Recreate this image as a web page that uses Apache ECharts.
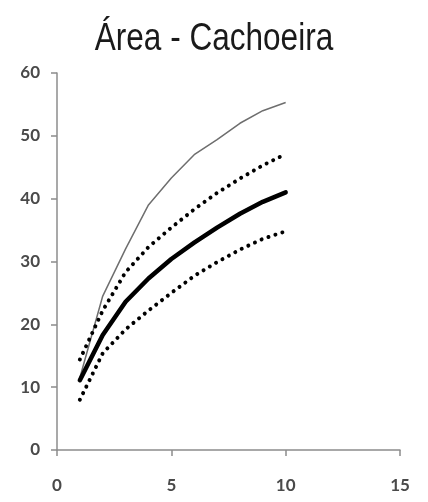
<!DOCTYPE html>
<html>
<head>
<meta charset="utf-8">
<script src="https://cdn.jsdelivr.net/npm/echarts@6/dist/echarts.min.js"></script>
<style>html,body{margin:0;padding:0;background:#fff}#c{width:428px;height:502px}</style>
</head>
<body>
<div id="c"></div>
<script>
const titleText = 'Área - Cachoeira';
const xValues = [1, 2, 3, 4, 5, 6, 7, 8, 9, 10];
const upperThin = [11.5, 24.5, 32, 39, 43.3, 47, 49.4, 52, 54, 55.3];
const upperDotted = [14.4, 22.2, 28.3, 32.3, 35.4, 38.3, 40.9, 43.2, 45.3, 47.1];
const mainThick = [11.1, 18.3, 23.6, 27.3, 30.4, 33, 35.4, 37.6, 39.5, 41];
const lowerDotted = [8.0, 15.4, 19.2, 22.2, 25, 27.7, 29.9, 31.9, 33.6, 34.8];
const xTicks = [0, 5, 10, 15];
const yTicks = [0, 10, 20, 30, 40, 50, 60];

const pairs = arr => xValues.map((x, i) => [x, arr[i]]);
const chart = echarts.init(document.getElementById('c'), null, {renderer: 'canvas'});
const axisColor = '#8c8c8c';
const labelFont = {fontFamily: 'Lato, "Open Sans", sans-serif', fontSize: 17, fontWeight: 'bold', color: '#4a4a4a'};
const dotted = {color: '#000', width: 4, type: [0.01, 7.3], cap: 'round'};
chart.setOption({
  animation: false,
  backgroundColor: '#fff',
  graphic: [{
    type: 'text', x: 214, y: 21, scaleX: 0.83,
    style: {
      text: titleText, align: 'center', verticalAlign: 'top',
      fontFamily: '"Liberation Sans", Arial, sans-serif', fontSize: 38, fill: '#1a1a1a'
    }
  }],
  grid: {left: 57, right: 28, top: 73, bottom: 52, containLabel: false},
  xAxis: {
    type: 'value', min: xTicks[0], max: xTicks[xTicks.length - 1], interval: 5,
    axisLine: {show: true, lineStyle: {color: axisColor, width: 1.5}},
    axisTick: {show: true, length: 6, lineStyle: {color: axisColor, width: 1.5}},
    splitLine: {show: false},
    axisLabel: Object.assign({margin: 27}, labelFont)
  },
  yAxis: {
    type: 'value', min: yTicks[0], max: yTicks[yTicks.length - 1], interval: 10,
    axisLine: {show: true, lineStyle: {color: axisColor, width: 1.5}},
    axisTick: {show: true, length: 6, lineStyle: {color: axisColor, width: 1.5}},
    splitLine: {show: false},
    axisLabel: Object.assign({margin: 17}, labelFont)
  },
  series: [
    {type: 'line', data: pairs(upperThin), symbol: 'none', lineStyle: {color: '#6e6e6e', width: 1.5}, z: 2},
    {type: 'line', data: pairs(upperDotted), symbol: 'none', lineStyle: dotted, z: 3},
    {type: 'line', data: pairs(mainThick), symbol: 'none', lineStyle: {color: '#000', width: 4.5, cap: 'round', join: 'round'}, z: 4},
    {type: 'line', data: pairs(lowerDotted), symbol: 'none', lineStyle: dotted, z: 3}
  ]
});
</script>
</body>
</html>
